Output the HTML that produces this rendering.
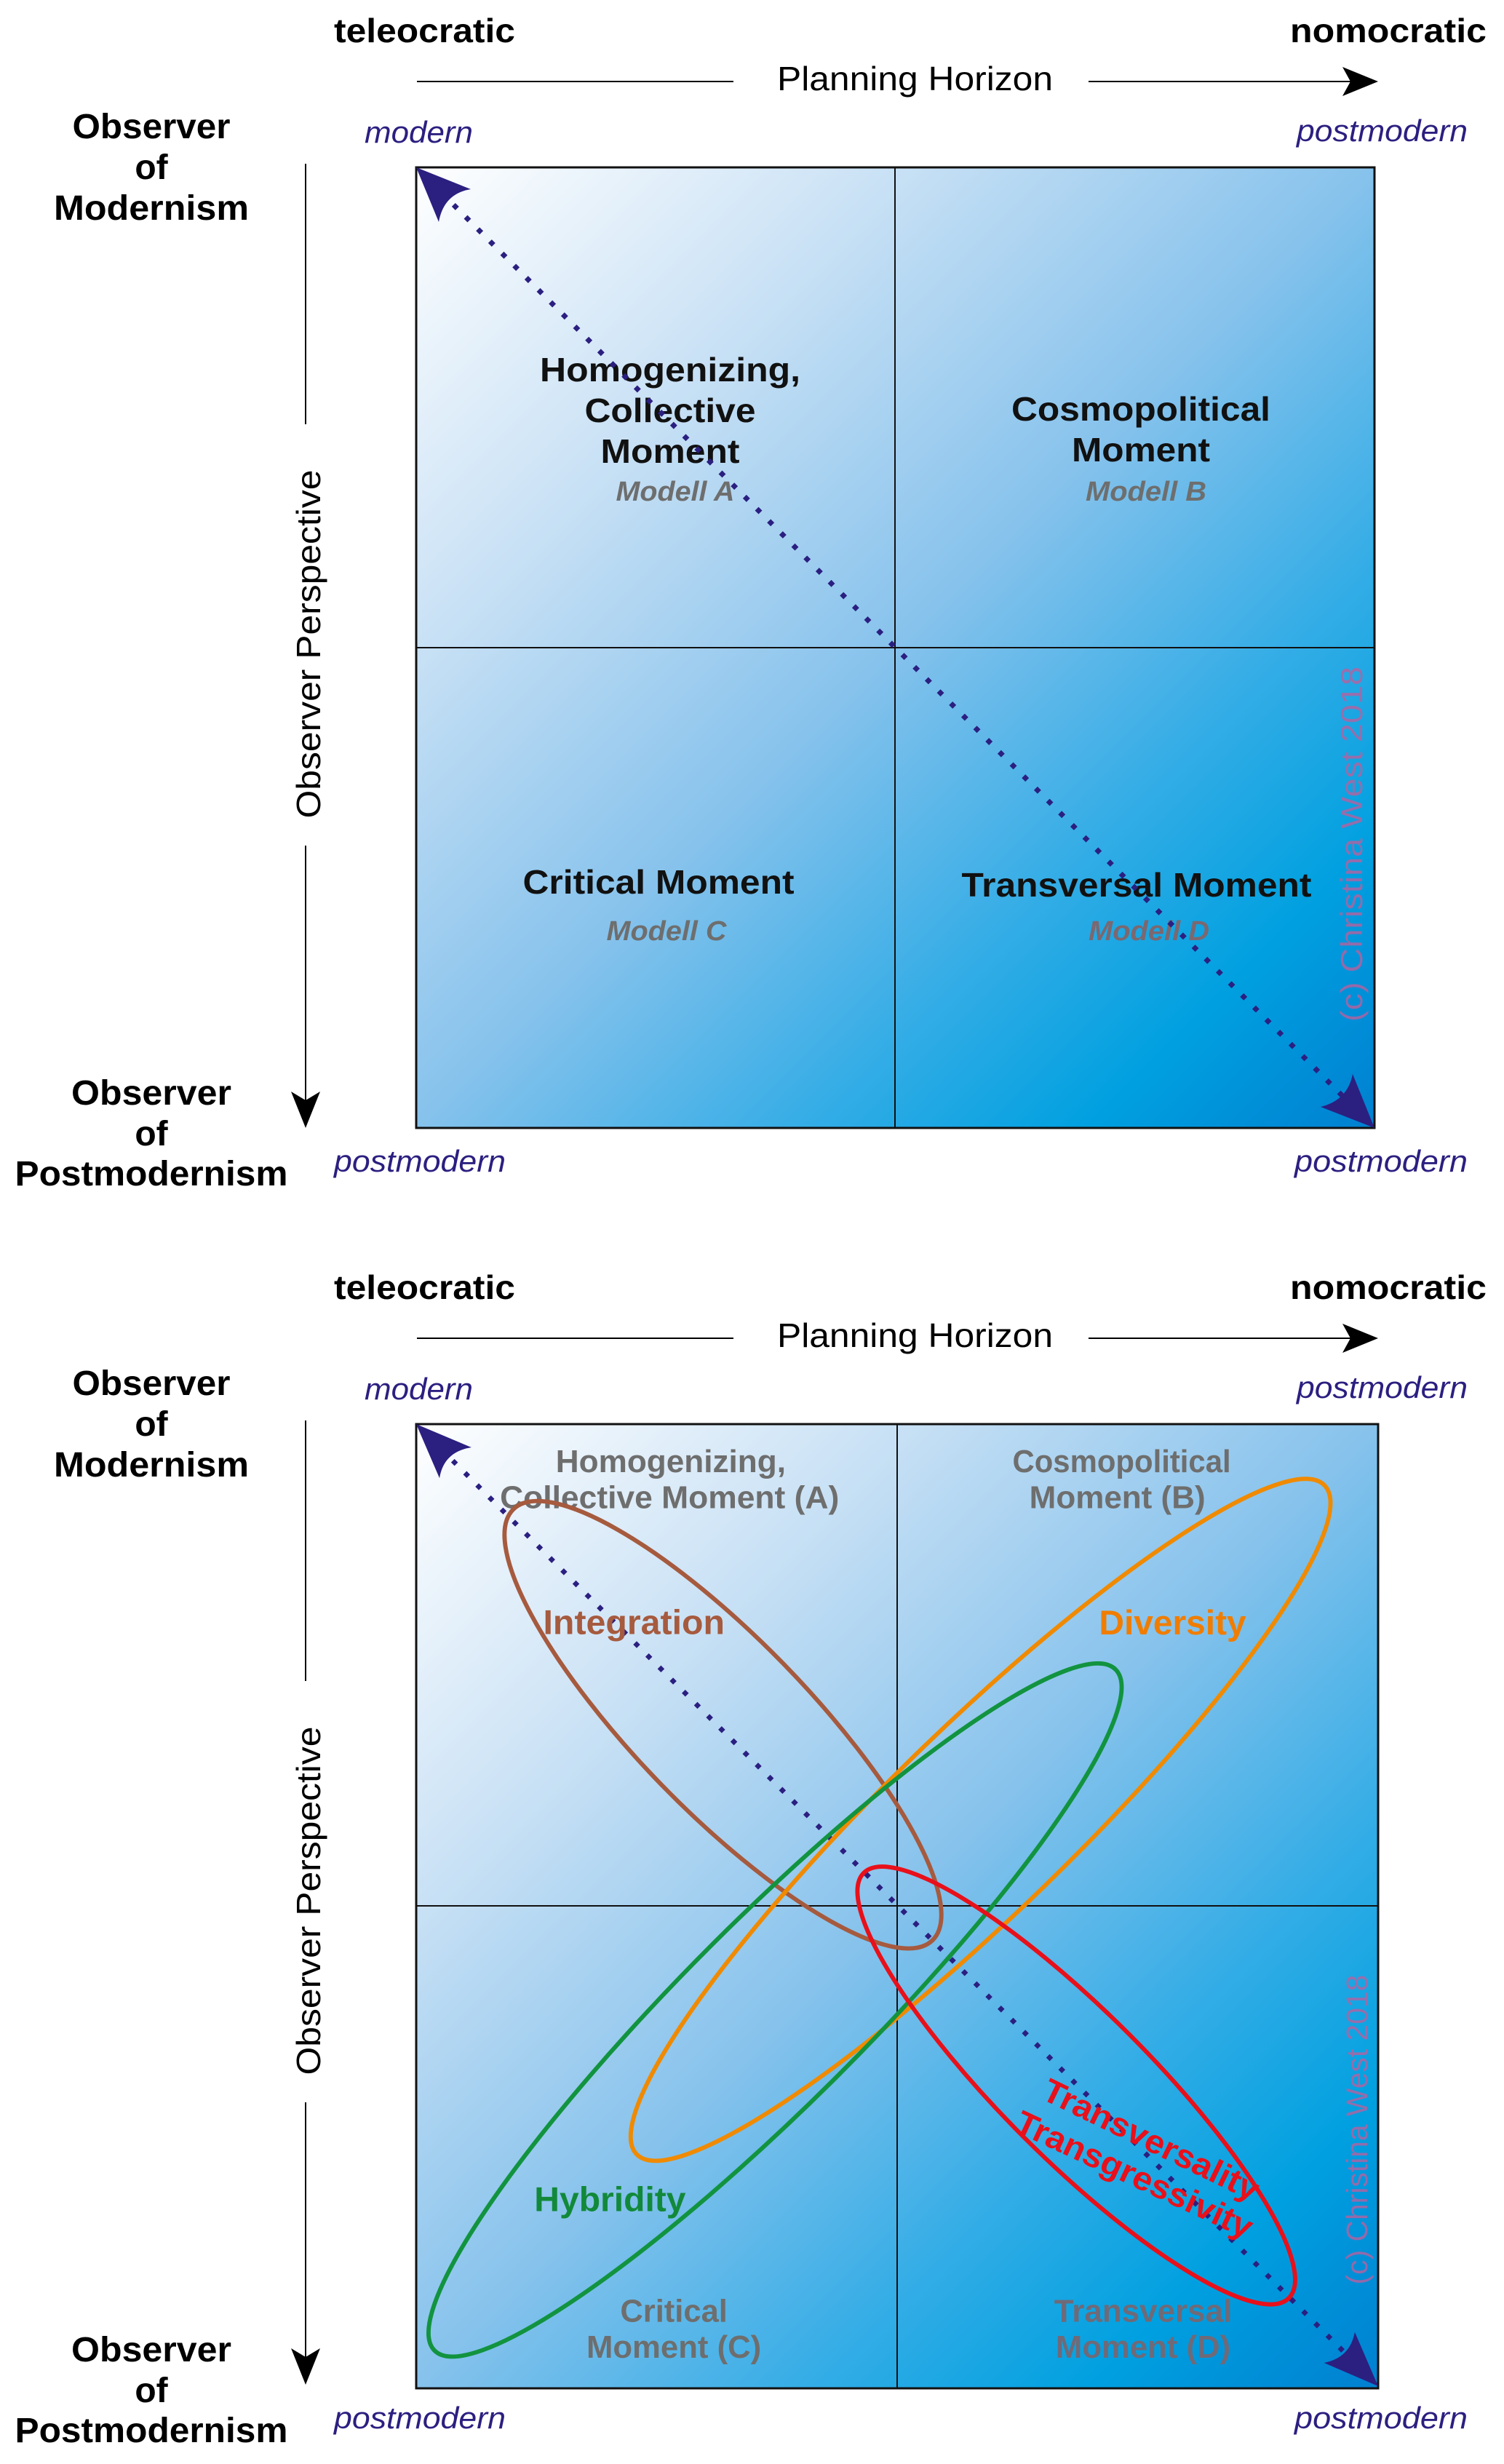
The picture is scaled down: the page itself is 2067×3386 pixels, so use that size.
<!DOCTYPE html>
<html><head><meta charset="utf-8"><style>html,body{margin:0;padding:0;background:#fff}svg{display:block}</style></head>
<body>
<svg width="2067" height="3386" viewBox="0 0 2067 3386" xmlns="http://www.w3.org/2000/svg" font-family="'Liberation Sans', sans-serif">
<defs>
<linearGradient id="g1" gradientUnits="userSpaceOnUse" x1="572" y1="230" x2="1889" y2="1550">
<stop offset="0" stop-color="#ffffff"/><stop offset="0.25" stop-color="#c9e1f5"/><stop offset="0.5" stop-color="#86c2ec"/><stop offset="0.7" stop-color="#35ade6"/><stop offset="0.85" stop-color="#00a0e0"/><stop offset="1" stop-color="#0080d0"/>
</linearGradient>
<linearGradient id="g2" gradientUnits="userSpaceOnUse" x1="572" y1="1957" x2="1894" y2="3282">
<stop offset="0" stop-color="#ffffff"/><stop offset="0.25" stop-color="#c9e1f5"/><stop offset="0.5" stop-color="#86c2ec"/><stop offset="0.7" stop-color="#35ade6"/><stop offset="0.85" stop-color="#00a0e0"/><stop offset="1" stop-color="#0080d0"/>
</linearGradient>
</defs>

<g id="outer">
<text x="459" y="58" font-size="46" font-weight="bold" textLength="249" lengthAdjust="spacingAndGlyphs">teleocratic</text>
<text x="1773" y="58" font-size="46" font-weight="bold" textLength="270" lengthAdjust="spacingAndGlyphs">nomocratic</text>
<line x1="573" y1="112" x2="1008" y2="112" stroke="#000" stroke-width="2"/>
<text x="1068" y="124" font-size="46" textLength="379" lengthAdjust="spacingAndGlyphs">Planning Horizon</text>
<line x1="1496" y1="112" x2="1860" y2="112" stroke="#000" stroke-width="2"/>
<path d="M1894,112 L1845,92 L1856,112 L1845,132 Z" fill="#000"/>
<text x="501" y="196" font-size="42" font-style="italic" fill="#2b1f80" textLength="149" lengthAdjust="spacingAndGlyphs">modern</text>
<text x="1782" y="194" font-size="42" font-style="italic" fill="#2b1f80" textLength="235" lengthAdjust="spacingAndGlyphs">postmodern</text>
<g font-size="48" font-weight="bold" text-anchor="middle">
<text x="208" y="190" textLength="217" lengthAdjust="spacingAndGlyphs">Observer</text>
<text x="208" y="246">of</text>
<text x="208" y="302" textLength="268" lengthAdjust="spacingAndGlyphs">Modernism</text>
<text x="208" y="1518" textLength="220" lengthAdjust="spacingAndGlyphs">Observer</text>
<text x="208" y="1574">of</text>
<text x="208" y="1629" textLength="375" lengthAdjust="spacingAndGlyphs">Postmodernism</text>
</g>
<line x1="420" y1="225" x2="420" y2="583" stroke="#000" stroke-width="2"/>
<text transform="translate(440,885) rotate(-90)" font-size="46" text-anchor="middle" textLength="479" lengthAdjust="spacingAndGlyphs">Observer Perspective</text>
<line x1="420" y1="1162" x2="420" y2="1515" stroke="#000" stroke-width="2"/>
<path d="M420,1550 L400,1500 L420,1512 L440,1500 Z" fill="#000"/>
<text x="459" y="1610" font-size="42" font-style="italic" fill="#2b1f80" textLength="236" lengthAdjust="spacingAndGlyphs">postmodern</text>
<text x="1779" y="1610" font-size="42" font-style="italic" fill="#2b1f80" textLength="238" lengthAdjust="spacingAndGlyphs">postmodern</text>
</g>
<use href="#outer" transform="translate(0,1727)"/>

<rect x="572" y="230" width="1317" height="1320" fill="url(#g1)" stroke="#111" stroke-width="3"/>
<line x1="1230" y1="230" x2="1230" y2="1550" stroke="#111" stroke-width="2"/>
<line x1="572" y1="890" x2="1889" y2="890" stroke="#111" stroke-width="2"/>
<g font-weight="bold" text-anchor="middle" font-size="46" fill="#111">
<text x="921" y="524" textLength="358" lengthAdjust="spacingAndGlyphs">Homogenizing,</text>
<text x="921" y="580" textLength="235" lengthAdjust="spacingAndGlyphs">Collective</text>
<text x="921" y="636" textLength="191" lengthAdjust="spacingAndGlyphs">Moment</text>
<text x="1568" y="578" textLength="356" lengthAdjust="spacingAndGlyphs">Cosmopolitical</text>
<text x="1568" y="634" textLength="190" lengthAdjust="spacingAndGlyphs">Moment</text>
<text x="905" y="1228" textLength="373" lengthAdjust="spacingAndGlyphs">Critical Moment</text>
<text x="1562" y="1232" textLength="481" lengthAdjust="spacingAndGlyphs">Transversal Moment</text>
</g>
<g font-weight="bold" font-style="italic" text-anchor="middle" font-size="38" fill="#6e6e6e">
<text x="928" y="688" textLength="163" lengthAdjust="spacingAndGlyphs">Modell A</text>
<text x="1575" y="688" textLength="166" lengthAdjust="spacingAndGlyphs">Modell B</text>
<text x="916" y="1292" textLength="165" lengthAdjust="spacingAndGlyphs">Modell C</text>
<text x="1579" y="1292" fill="#7b6870" textLength="166" lengthAdjust="spacingAndGlyphs">Modell D</text>
</g>
<text transform="translate(1872,1160) rotate(-90)" font-size="42" text-anchor="middle" fill="#b8609e" fill-opacity="0.8" textLength="488" lengthAdjust="spacingAndGlyphs">(c) Christina West  2018</text>
<line x1="590" y1="248" x2="1871" y2="1532" stroke="#2b1f80" stroke-width="7" stroke-dasharray="7 16.6"/>
<path d="M572,230 L647,260 Q610,266 603,305 Z" fill="#2b1f80"/>
<path d="M1889,1550 L1815,1521 Q1852,1512 1859,1476 Z" fill="#2b1f80"/>

<rect x="572" y="1957" width="1322" height="1325" fill="url(#g2)" stroke="#111" stroke-width="3"/>
<line x1="1233" y1="1957" x2="1233" y2="3282" stroke="#111" stroke-width="2"/>
<line x1="572" y1="2619" x2="1894" y2="2619" stroke="#111" stroke-width="2"/>
<g transform="translate(572,1957) scale(0.8431)">
<line x1="20" y1="20" x2="1548" y2="1548" stroke="#2b1f80" stroke-width="8" stroke-dasharray="8 20"/>
<g font-weight="bold" text-anchor="middle" font-size="52" fill="#6e6e6e">
<text x="415" y="78" textLength="375" lengthAdjust="spacingAndGlyphs">Homogenizing,</text>
<text x="413" y="137" textLength="553" lengthAdjust="spacingAndGlyphs">Collective Moment (A)</text>
<text x="1150" y="78" textLength="356" lengthAdjust="spacingAndGlyphs">Cosmopolitical</text>
<text x="1143" y="137" textLength="287" lengthAdjust="spacingAndGlyphs">Moment (B)</text>
<text x="420" y="1463" textLength="175" lengthAdjust="spacingAndGlyphs">Critical</text>
<text x="420" y="1522" textLength="285" lengthAdjust="spacingAndGlyphs">Moment (C)</text>
<text x="1185" y="1463" fill="#6f6a78" textLength="290" lengthAdjust="spacingAndGlyphs">Transversal</text>
<text x="1185" y="1522" fill="#6f6a78" textLength="285" lengthAdjust="spacingAndGlyphs">Moment (D)</text>
<text x="355" y="342" fill="#a65a3e" font-size="56" textLength="296" lengthAdjust="spacingAndGlyphs">Integration</text>
<text x="1233" y="343" fill="#f07d00" font-size="56" textLength="240" lengthAdjust="spacingAndGlyphs">Diversity</text>
<text x="316" y="1283" fill="#12893a" font-size="56" textLength="247" lengthAdjust="spacingAndGlyphs">Hybridity</text>
<text transform="translate(1190,1183) rotate(26)" fill="#e8101a" font-size="54" textLength="385" lengthAdjust="spacingAndGlyphs">Transversality</text>
<text transform="translate(1163,1240) rotate(25)" fill="#e8101a" font-size="54" textLength="420" lengthAdjust="spacingAndGlyphs">Transgressivity</text>
</g>
<text transform="translate(1550,1150) rotate(-90)" font-size="48" text-anchor="middle" fill="#b8609e" fill-opacity="0.8" textLength="505" lengthAdjust="spacingAndGlyphs">(c) Christina West  2018</text>
<g fill="none" stroke-width="7">
<ellipse cx="500" cy="490" rx="490" ry="140" transform="rotate(45.8 500 490)" stroke="#a65a3e"/>
<ellipse cx="920" cy="645" rx="782" ry="150" transform="rotate(-44.2 920 645)" stroke="#f08a00"/>
<ellipse cx="585" cy="955" rx="785" ry="148" transform="rotate(-45 585 955)" stroke="#12933f"/>
<ellipse cx="1076" cy="1078" rx="490" ry="120" transform="rotate(45 1076 1078)" stroke="#e8101a"/>
</g>
<path d="M0,0 L90,38 Q45,45 38,88 Z" fill="#2b1f80"/>
<path d="M1568,1568 L1480,1530 Q1522,1522 1530,1480 Z" fill="#2b1f80"/>
</g>
</svg>
</body></html>
